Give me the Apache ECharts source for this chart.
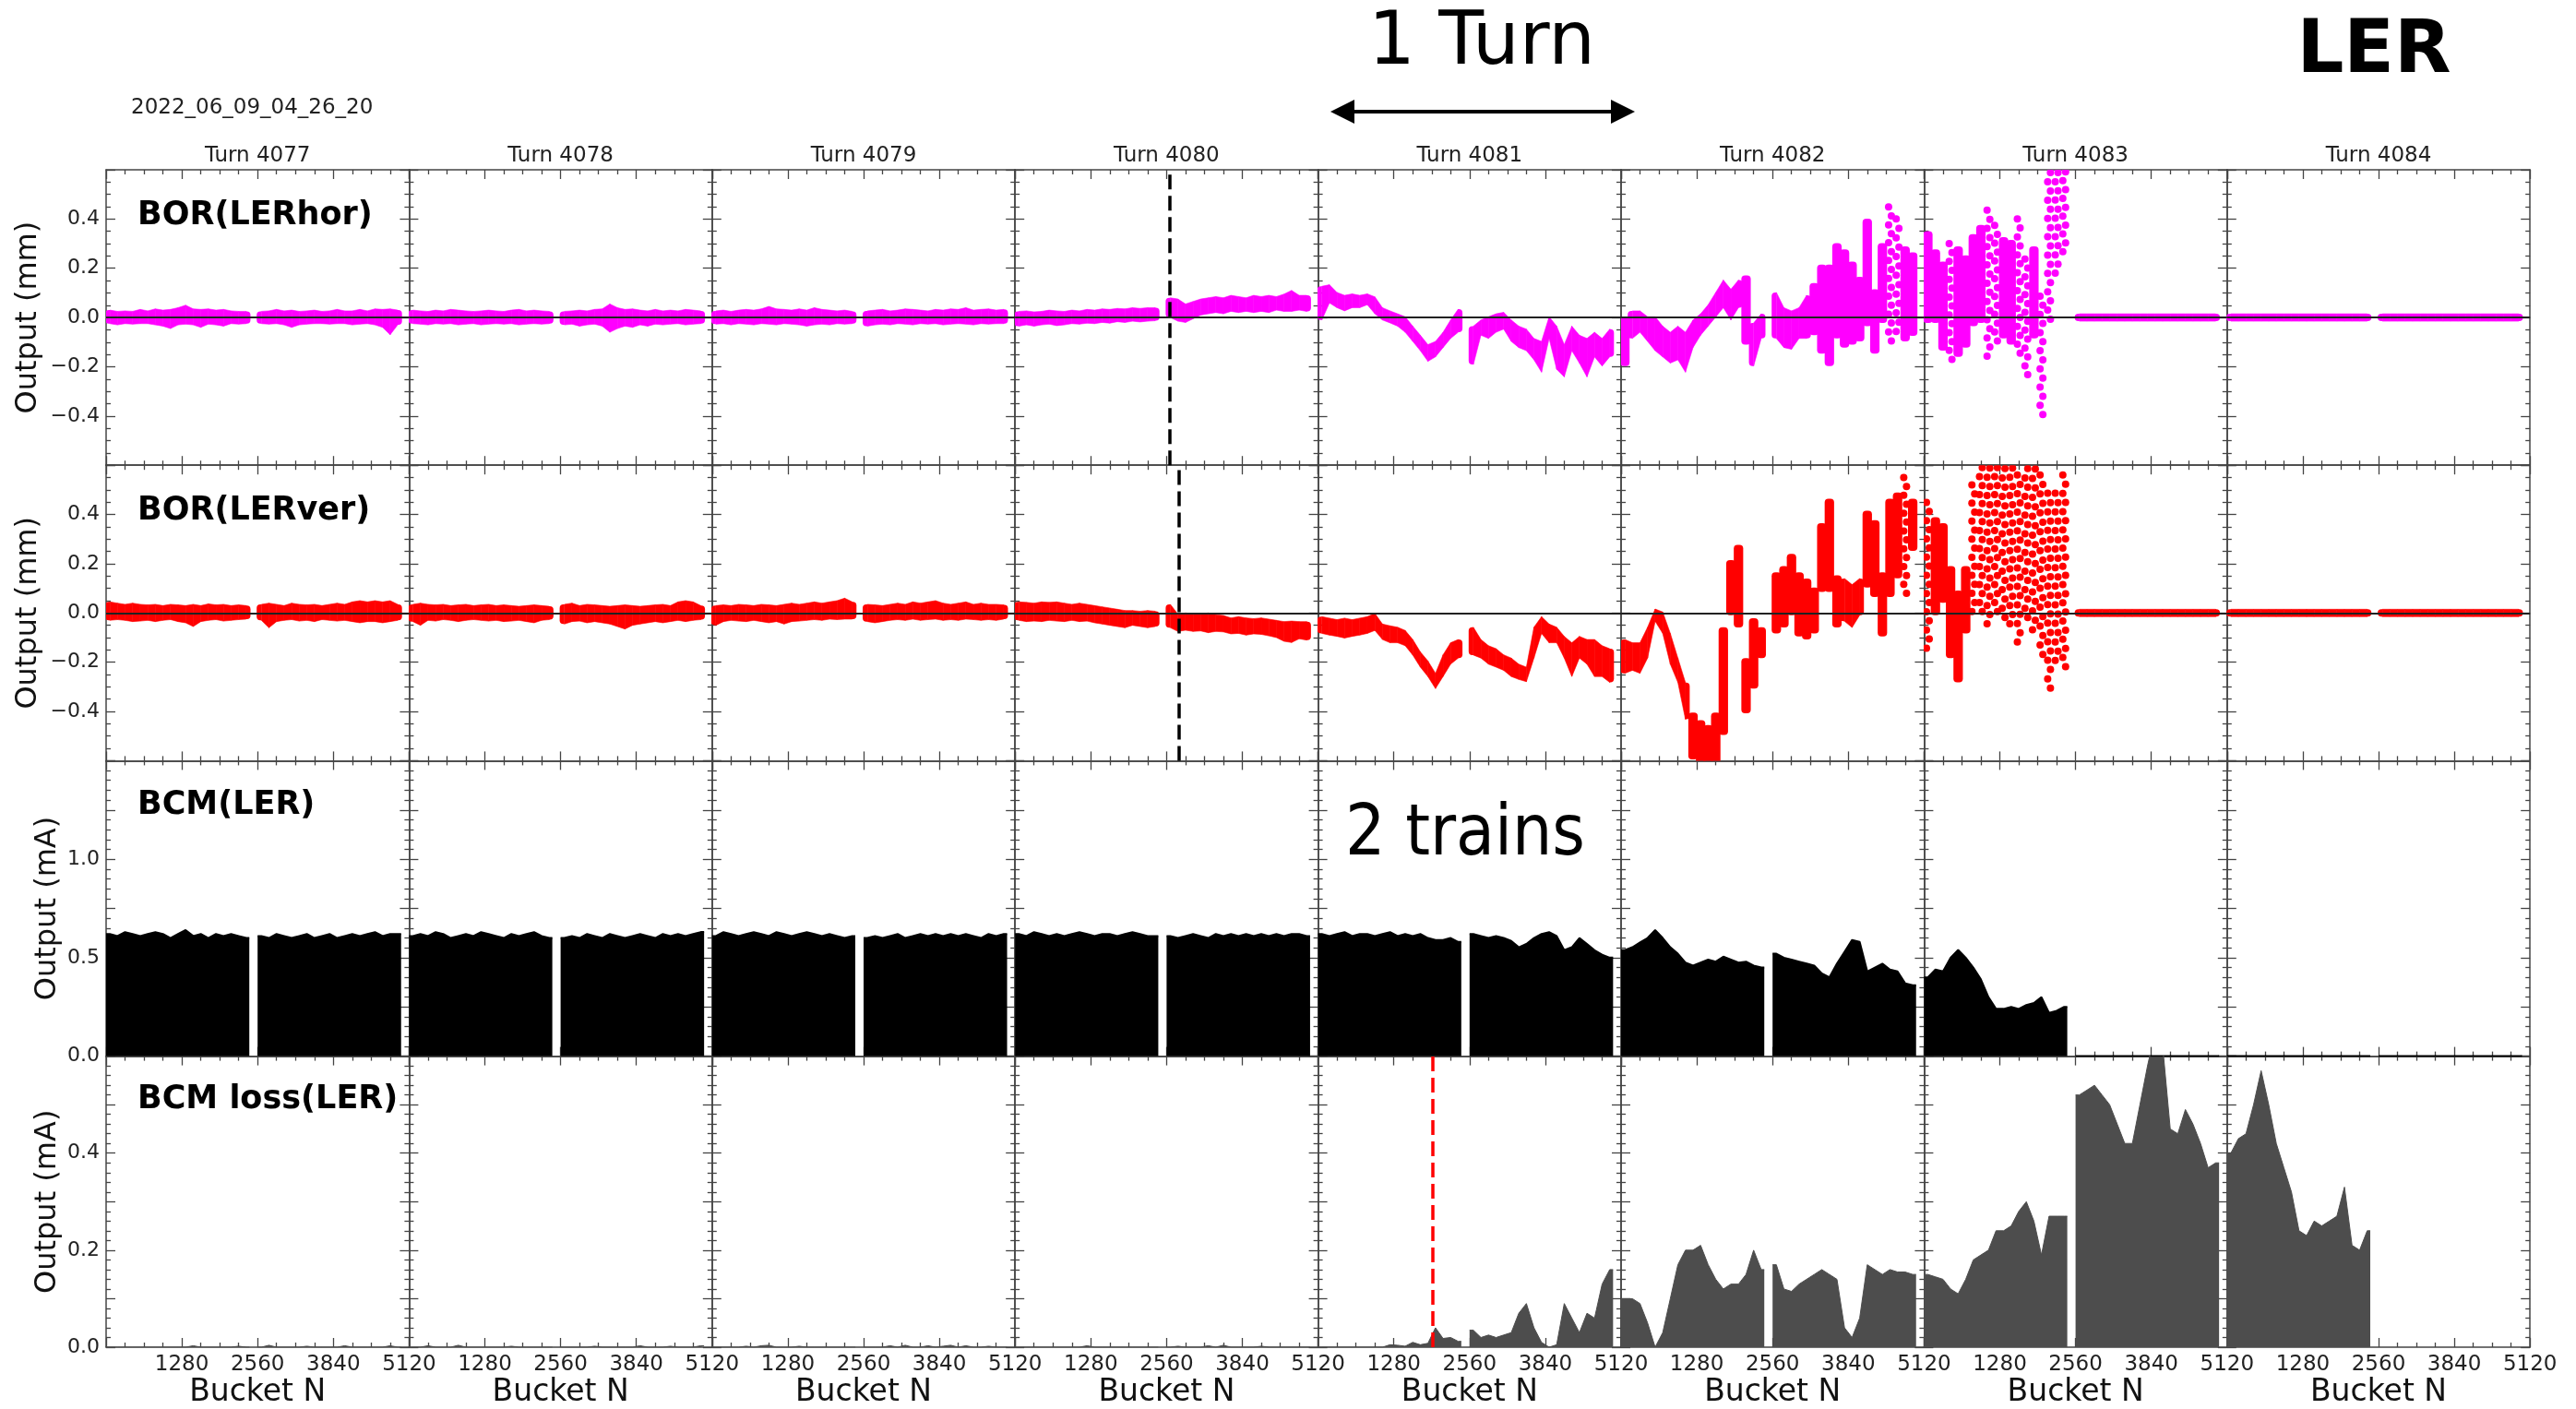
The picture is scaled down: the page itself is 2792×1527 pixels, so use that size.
<!DOCTYPE html>
<html><head><meta charset="utf-8">
<script src="https://cdn.jsdelivr.net/npm/echarts/dist/echarts.min.js"></script>
<style>html,body{margin:0;padding:0;background:#fff}#c{width:2792px;height:1527px}</style>
</head><body><div id="c"></div>
<script>
const _ = null;
// ---------- categories / labels ----------
const turns = [4077, 4078, 4079, 4080, 4081, 4082, 4083, 4084];
const xTickLabels = [1280, 2560, 3840, 5120];
const yLabelsBOR = [-0.4, -0.2, 0, 0.2, 0.4];
const yLabelsBCM = [0, 0.5, 1.0];
const yLabelsLoss = [0, 0.2, 0.4];
const BIN = 128;                       // buckets per sample bin (40 bins per turn)
const trainSpans = [[0, 2420], [2560, 4985]];
const dashHor = 2619, dashVer = 2775, dashLoss = 1929;  // bucket of dashed markers (turns 4080, 4080, 4081)

// ---------- BOR(LERhor) : low / high envelope per bin (mm) ----------
const horHi4077 = [.015,.01,.012,.01,.018,.012,.02,.015,.018,.025,.035,.02,.018,.02,.015,.018,.012,.01,.01,_,.01,.012,.018,.012,.015,.01,.012,.015,.01,.012,.018,.012,.012,.018,.012,.02,.018,.02,.015,_];
const horLo4077 = [-.01,-.015,-.01,-.012,-.01,-.01,-.015,-.02,-.03,-.015,-.012,-.015,-.025,-.012,-.015,-.02,-.01,-.012,-.01,_,-.01,-.012,-.01,-.015,-.025,-.015,-.012,-.01,-.01,-.012,-.01,-.01,-.015,-.012,-.01,-.015,-.025,-.055,-.015,_];
const horHi4078 = [.015,.012,.01,.015,.012,.018,.015,.012,.01,.012,.015,.012,.01,.015,.018,.012,.015,.012,.01,_,.01,.012,.015,.012,.018,.02,.04,.025,.018,.02,.015,.012,.018,.012,.015,.012,.018,.015,.012,_];
const horLo4078 = [-.01,-.012,-.015,-.01,-.012,-.01,-.015,-.012,-.01,-.015,-.012,-.01,-.012,-.01,-.015,-.012,-.01,-.012,-.01,_,-.015,-.012,-.02,-.015,-.012,-.02,-.045,-.03,-.02,-.025,-.015,-.02,-.012,-.015,-.012,-.01,-.015,-.012,-.01,_];
const horHi4079 = [.012,.015,.01,.015,.018,.015,.02,.03,.02,.018,.015,.02,.015,.025,.018,.015,.012,.015,.01,_,.012,.015,.018,.012,.015,.02,.018,.015,.012,.018,.015,.02,.018,.025,.015,.018,.02,.015,.018,_];
const horLo4079 = [-.012,-.01,-.015,-.01,-.012,-.015,-.01,-.012,-.015,-.01,-.012,-.015,-.02,-.015,-.012,-.015,-.01,-.012,-.01,_,-.02,-.015,-.012,-.015,-.01,-.012,-.015,-.01,-.012,-.01,-.015,-.012,-.01,-.012,-.015,-.01,-.012,-.01,-.01,_];
const horHi4080 = [.01,.012,.008,.01,.015,.012,.01,.015,.012,.018,.015,.02,.018,.022,.02,.025,.022,.025,.025,_,.065,.06,.04,.05,.06,.065,.07,.065,.075,.07,.065,.075,.07,.075,.07,.08,.095,.075,.075,_];
const horLo4080 = [-.02,-.015,-.02,-.015,-.012,-.018,-.015,-.01,-.012,-.008,-.01,-.005,-.008,-.002,-.005,0,-.003,0,.002,_,.015,0,-.005,.01,.025,.03,.035,.03,.04,.035,.04,.035,.04,.035,.045,.04,.04,.045,.04,_];
const horHi4081 = [.112,.118,.087,.075,.081,.075,.081,.069,.025,.012,0,-.012,-.05,-.087,-.125,-.112,-.075,-.025,.019,_,-.05,-.025,-.012,0,.006,-.025,-.05,-.062,-.1,-.112,-.012,-.05,-.125,-.05,-.087,-.1,-.075,-.1,-.062,_];
const horLo4081 = [.005,.074,.055,.042,.055,.055,.067,.03,.005,-.007,-.02,-.045,-.082,-.12,-.163,-.145,-.107,-.07,-.045,_,-.176,-.057,-.07,-.045,-.032,-.082,-.107,-.12,-.157,-.207,-.07,-.195,-.226,-.12,-.17,-.226,-.145,-.182,-.145,_];
const horHi4082 = [-.012,.012,.012,-.012,-.012,-.05,-.075,-.05,-.075,-.025,0,.037,.087,.137,.1,.137,.156,-.037,0,_,.087,.025,.012,.025,.075,.125,.2,.2,.287,.262,.212,.15,.386,.1,.287,.449,.4,.274,.25,_];
const horLo4082 = [-.182,-.07,-.045,-.082,-.12,-.145,-.17,-.157,-.207,-.107,-.057,-.02,.017,.055,.005,.055,-.095,-.182,-.07,_,-.07,-.107,-.114,-.07,-.07,-.057,-.132,-.182,-.07,-.107,-.095,-.082,-.02,-.132,-.007,-.095,-.057,-.082,-.06,_];
const horHi4083 = [.336,.262,.212,.3,.274,.237,.324,.361,.436,.374,.311,.3,.4,.237,.274,.087,.7,.7,.7,_,0,0,0,0,0,0,0,0,0,0,0,0,0,0,0,0,0,0,0,_];
const horLo4083 = [-.007,-.007,-.12,-.17,-.145,-.107,-.02,-.007,-.157,-.095,-.07,-.095,-.145,-.232,-.07,-.394,-.007,.18,.267,_,0,0,0,0,0,0,0,0,0,0,0,0,0,0,0,0,0,0,0,_];
const horHi4084 = [0,0,0,0,0,0,0,0,0,0,0,0,0,0,0,0,0,0,0,_,0,0,0,0,0,0,0,0,0,0,0,0,0,0,0,0,0,0,0,_];
const horLo4084 = [0,0,0,0,0,0,0,0,0,0,0,0,0,0,0,0,0,0,0,_,0,0,0,0,0,0,0,0,0,0,0,0,0,0,0,0,0,0,0,_];

// ---------- BOR(LERver) ----------
const verHi4077 = [.03,.025,.02,.025,.02,.018,.02,.015,.02,.018,.015,.02,.015,.022,.018,.02,.015,.018,.015,_,.02,.025,.02,.015,.025,.02,.018,.02,.015,.02,.025,.02,.03,.035,.03,.035,.03,.035,.02,_];
const verLo4077 = [-.015,-.012,-.015,-.02,-.018,-.015,-.02,-.015,-.012,-.02,-.025,-.04,-.02,-.015,-.012,-.018,-.015,-.012,-.01,_,-.015,-.045,-.02,-.015,-.012,-.018,-.015,-.02,-.012,-.015,-.018,-.015,-.02,-.025,-.02,-.02,-.025,-.02,-.015,_];
const verHi4078 = [.02,.025,.02,.018,.02,.015,.018,.02,.015,.018,.02,.015,.018,.015,.012,.015,.018,.015,.012,_,.02,.025,.015,.02,.018,.015,.012,.015,.018,.015,.012,.015,.018,.02,.015,.03,.035,.03,.015,_];
const verLo4078 = [-.02,-.035,-.015,-.018,-.012,-.015,-.02,-.015,-.012,-.015,-.018,-.015,-.02,-.018,-.015,-.02,-.025,-.015,-.012,_,-.03,-.02,-.018,-.025,-.02,-.025,-.03,-.04,-.05,-.035,-.03,-.025,-.02,-.025,-.02,-.015,-.02,-.015,-.012,_];
const verHi4079 = [.015,.018,.015,.02,.018,.015,.02,.018,.015,.02,.025,.02,.025,.03,.025,.03,.035,.045,.03,_,.02,.018,.015,.02,.025,.02,.03,.025,.03,.035,.025,.02,.025,.03,.02,.025,.02,.02,.018,_];
const verLo4079 = [-.035,-.02,-.015,-.018,-.02,-.015,-.02,-.025,-.02,-.03,-.02,-.018,-.015,-.012,-.015,-.01,-.012,-.01,-.01,_,-.02,-.025,-.02,-.015,-.012,-.015,-.01,-.015,-.012,-.01,-.015,-.012,-.015,-.01,-.012,-.015,-.012,-.015,-.01,_];
const verHi4080 = [.03,.028,.025,.03,.028,.03,.025,.02,.025,.02,.015,.01,.005,0,-.005,-.005,-.008,-.005,-.008,_,.02,-.02,-.015,-.018,-.02,-.015,-.022,-.025,-.035,-.03,-.035,-.038,-.035,-.04,-.045,-.05,-.048,-.05,-.05,_];
const verLo4080 = [-.015,-.02,-.018,-.02,-.015,-.018,-.02,-.015,-.02,-.018,-.025,-.03,-.035,-.04,-.045,-.035,-.04,-.045,-.04,_,-.045,-.06,-.055,-.06,-.058,-.065,-.06,-.062,-.07,-.068,-.075,-.07,-.072,-.078,-.085,-.1,-.105,-.09,-.095,_];
const verHi4081 = [-.03,-.036,-.042,-.036,-.042,-.036,-.03,-.017,-.06,-.067,-.073,-.086,-.123,-.173,-.21,-.26,-.185,-.136,-.123,_,-.073,-.123,-.148,-.16,-.185,-.198,-.223,-.235,-.073,-.03,-.06,-.073,-.11,-.136,-.11,-.123,-.123,-.148,-.16,_];
const verLo4081 = [-.068,-.075,-.08,-.087,-.08,-.075,-.068,-.056,-.093,-.106,-.106,-.118,-.156,-.205,-.243,-.292,-.243,-.193,-.168,_,-.156,-.168,-.193,-.205,-.218,-.243,-.255,-.264,-.168,-.068,-.106,-.106,-.168,-.243,-.168,-.193,-.243,-.243,-.267,_];
const verHi4082 = [-.123,-.136,-.136,-.073,.001,-.011,-.098,-.198,-.298,-.42,-.45,-.47,-.42,-.073,.2,.262,-.198,-.036,-.073,_,.15,.175,.225,.15,.125,.088,.35,.449,.138,.125,.1,.125,.4,.362,.15,.449,.474,.55,.449,_];
const verLo4082 = [-.23,-.218,-.23,-.168,-.019,-.068,-.193,-.267,-.417,-.58,-.7,-.7,-.7,-.48,.006,-.044,-.392,-.292,-.168,_,-.068,-.044,.006,-.08,-.093,-.068,.1,.1,-.044,-.019,-.044,.006,.118,.08,-.08,.08,.156,.08,.267,_];
const verHi4083 = [.449,.374,.35,.175,.076,.175,.52,.7,.7,.7,.7,.7,.56,.7,.7,.56,.486,.486,.56,_,0,0,0,0,0,0,0,0,0,0,0,0,0,0,0,0,0,0,0,_];
const verLo4083 = [-.143,.006,.056,-.168,-.267,-.068,.006,.006,-.044,.006,-.019,-.044,-.118,-.019,-.068,-.168,-.305,-.193,-.218,_,0,0,0,0,0,0,0,0,0,0,0,0,0,0,0,0,0,0,0,_];
const verHi4084 = [0,0,0,0,0,0,0,0,0,0,0,0,0,0,0,0,0,0,0,_,0,0,0,0,0,0,0,0,0,0,0,0,0,0,0,0,0,0,0,_];
const verLo4084 = [0,0,0,0,0,0,0,0,0,0,0,0,0,0,0,0,0,0,0,_,0,0,0,0,0,0,0,0,0,0,0,0,0,0,0,0,0,0,0,_];

// ---------- BCM(LER) per bin (mA) ----------
const bcm4077 = [.62,.61,.63,.62,.61,.62,.63,.62,.60,.62,.64,.61,.62,.60,.62,.61,.62,.61,.60,_,.61,.60,.62,.61,.60,.61,.62,.60,.61,.62,.60,.61,.62,.61,.62,.63,.61,.62,.62,_];
const bcm4078 = [.61,.62,.61,.63,.62,.60,.61,.62,.61,.63,.62,.61,.60,.62,.61,.62,.63,.61,.60,_,.60,.61,.60,.62,.61,.60,.62,.61,.60,.61,.62,.61,.60,.62,.61,.62,.61,.62,.63,_];
const bcm4079 = [.61,.63,.62,.61,.62,.63,.62,.61,.63,.62,.61,.62,.63,.62,.61,.62,.61,.60,.61,_,.60,.61,.60,.61,.62,.60,.61,.62,.61,.62,.61,.62,.61,.62,.61,.60,.62,.61,.62,_];
const bcm4080 = [.62,.61,.63,.62,.61,.62,.61,.62,.63,.62,.61,.62,.62,.61,.62,.63,.62,.61,.61,_,.61,.60,.61,.62,.61,.60,.62,.61,.62,.61,.62,.61,.62,.61,.62,.61,.62,.62,.61,_];
const bcm4081 = [.62,.61,.62,.63,.61,.62,.62,.61,.62,.63,.61,.62,.61,.62,.60,.59,.59,.60,.58,_,.62,.61,.60,.61,.60,.585,.553,.57,.60,.62,.63,.61,.538,.553,.60,.57,.538,.515,.50,_];
const bcm4082 = [.538,.553,.577,.60,.64,.60,.553,.52,.475,.46,.475,.49,.48,.505,.49,.475,.48,.46,.45,_,.52,.50,.49,.48,.47,.46,.42,.40,.47,.53,.59,.58,.43,.45,.47,.44,.43,.37,.36,_];
const bcm4083 = [.40,.44,.43,.50,.54,.50,.45,.39,.30,.24,.24,.25,.24,.26,.27,.30,.22,.23,.25,_,0,0,0,0,0,0,0,0,0,0,0,0,0,0,0,0,0,0,0,_];
const bcm4084 = [0,0,0,0,0,0,0,0,0,0,0,0,0,0,0,0,0,0,0,_,0,0,0,0,0,0,0,0,0,0,0,0,0,0,0,0,0,0,0,_];

// ---------- BCM loss(LER) per bin (mA) ----------
const loss4077 = [0,0,0,0,0,0,0,0,0,0,0,.003,0,0,0,0,0,.002,0,_,0,.004,0,0,0,0,.002,0,0,0,0,.003,0,0,0,0,0,.003,0,_];
const loss4078 = [0,0,.003,0,0,0,.004,0,0,0,0,0,0,.002,0,0,0,0,0,_,0,0,0,0,.002,0,0,0,0,0,.003,0,0,0,.002,0,0,0,.003,_];
const loss4079 = [0,0,0,0,.002,0,.003,.004,0,0,0,.002,0,0,0,0,0,0,0,_,0,0,0,.003,0,.004,0,0,.003,0,.002,.004,0,.003,0,0,.002,0,0,_];
const loss4080 = [0,0,0,0,0,0,0,0,0,.003,0,0,0,0,0,0,0,0,0,_,0,.002,0,0,0,.003,0,.004,0,0,0,0,.002,0,0,0,0,0,0,_];
const loss4081 = [0,0,0,0,0,0,0,0,0,.005,.004,.002,.01,.005,.008,.04,.018,.02,.012,_,.035,.02,.025,.02,.025,.03,.07,.09,.04,.01,0,.005,.09,.06,.03,.07,.06,.13,.16,_];
const loss4082 = [.1,.1,.09,.05,0,.03,.1,.17,.2,.2,.21,.17,.14,.12,.13,.13,.15,.2,.16,_,.17,.12,.115,.13,.14,.15,.16,.15,.14,.04,.02,.06,.17,.16,.15,.16,.155,.155,.15,_];
const loss4083 = [.15,.145,.14,.12,.11,.14,.18,.19,.2,.24,.24,.25,.28,.3,.26,.19,.27,.27,.27,_,.52,.53,.54,.52,.5,.46,.42,.42,.5,.58,.65,.62,.45,.44,.49,.46,.42,.37,.38,_];
const loss4084 = [.4,.43,.44,.5,.57,.5,.42,.37,.32,.24,.23,.26,.25,.26,.27,.33,.21,.2,.24,_,_,_,_,_,_,_,_,_,_,_,_,_,_,_,_,_,_,_,_,_];

const horLo = [horLo4077,horLo4078,horLo4079,horLo4080,horLo4081,horLo4082,horLo4083,horLo4084];
const horHi = [horHi4077,horHi4078,horHi4079,horHi4080,horHi4081,horHi4082,horHi4083,horHi4084];
const verLo = [verLo4077,verLo4078,verLo4079,verLo4080,verLo4081,verLo4082,verLo4083,verLo4084];
const verHi = [verHi4077,verHi4078,verHi4079,verHi4080,verHi4081,verHi4082,verHi4083,verHi4084];
const bcm = [bcm4077,bcm4078,bcm4079,bcm4080,bcm4081,bcm4082,bcm4083,bcm4084];
const loss = [loss4077,loss4078,loss4079,loss4080,loss4081,loss4082,loss4083,loss4084];

// ---------- layout / style ----------
const FONT = '"DejaVu Sans", Verdana, sans-serif';
const L0 = 115, COLW = 328.4, T0 = 184, ROWH = 320.2;
const AX = '#444';
const R_DOT = 4, DOT_STEP = 10, DOTTED_ABOVE = 120, SMOOTH_MAX = 50;
const NONE = -999;
const rowDefs = [
  {min:-0.6, max:0.6, interval:0.2, minor:4, labels:yLabelsBOR, name:'Output (mm)', gap:68, title:'BOR(LERhor)'},
  {min:-0.6, max:0.6, interval:0.2, minor:4, labels:yLabelsBOR, name:'Output (mm)', gap:68, title:'BOR(LERver)'},
  {min:0, max:1.5, interval:0.25, minor:5, labels:yLabelsBCM, name:'Output (mA)', gap:47, title:'BCM(LER)'},
  {min:0, max:0.6, interval:0.1, minor:5, labels:yLabelsLoss, name:'Output (mA)', gap:47, title:'BCM loss(LER)'}
];
const fmtNum = v => v.toFixed(1).replace('-', '\u2212');
const inList = (list, v) => list.some(t => Math.abs(t - v) < 1e-6);

// item: [x, lo, hi, nextX, nextLo, nextHi, prevX, prevLo, prevHi] (neighbours only inside a train)
function segData(lo, hi) {
  const out = [];
  const ok = i => i >= 0 && i < lo.length && lo[i] !== null && hi[i] !== null;
  lo.forEach((v, i) => {
    if (!ok(i)) return;
    const n = ok(i + 1) ? [(i + 1.5) * BIN, lo[i + 1], hi[i + 1]] : [NONE, 0, 0];
    const p = ok(i - 1) ? [(i - 0.5) * BIN, lo[i - 1], hi[i - 1]] : [NONE, 0, 0];
    out.push([(i + 0.5) * BIN, v, hi[i], ...n, ...p]);
  });
  return out;
}
function areaData(vals) {
  const out = [];
  trainSpans.forEach(([s, e]) => {
    const pts = [];
    vals.forEach((v, i) => { const x = (i + 0.5) * BIN; if (v !== null && x > s && x < e) pts.push([x, v]); });
    if (!pts.length) return;
    out.push([s, pts[0][1]], ...pts, [e, pts[pts.length - 1][1]], [e + 20, null]);
  });
  return out;
}
// dense bins -> continuous band; tall bins -> column; very tall bins -> column of separate dots
function segRender(color) {
  return function (params, api) {
    const span = (x, lo, hi) => {
      const a = api.coord([x, lo]), b = api.coord([x, hi]);
      return {x: a[0], top: Math.min(a[1], b[1]) - R_DOT, bot: Math.max(a[1], b[1]) + R_DOT};
    };
    const me = span(api.value(0), api.value(1), api.value(2));
    const h = me.bot - me.top;
    const w = api.size([BIN, 0])[0];
    const st = {fill: color, stroke: color, lineWidth: 0.6};
    if (h > DOTTED_ABOVE) {
      const n = Math.max(1, Math.round((h - 2 * R_DOT) / DOT_STEP));
      const children = [];
      for (let k = 0; k <= n; k++) {
        children.push({type: 'circle', shape: {cx: me.x + (k % 2 ? 1.5 : -1.5), cy: me.top + R_DOT + k * (h - 2 * R_DOT) / n, r: R_DOT},
          style: {fill: color}});
      }
      return {type: 'group', children: children};
    }
    const children = [];
    let connR = false, connL = false;
    if (h <= SMOOTH_MAX && api.value(3) > NONE + 1) {
      const nx = span(api.value(3), api.value(4), api.value(5));
      if (nx.bot - nx.top <= SMOOTH_MAX) {
        connR = true;
        children.push({type: 'polygon', shape: {points: [[me.x, me.top], [nx.x, nx.top], [nx.x, nx.bot], [me.x, me.bot]]}, style: st});
      }
    }
    if (h <= SMOOTH_MAX && api.value(6) > NONE + 1) {
      const pv = span(api.value(6), api.value(7), api.value(8));
      if (pv.bot - pv.top <= SMOOTH_MAX) connL = true;
    }
    if (!(connL && connR)) {
      let rx = me.x - w / 2 - 1, rw = w + 2, r = R_DOT;
      if (connR) { rw = w / 2 + 1; r = [R_DOT, 0, 0, R_DOT]; }
      else if (connL) { rx = me.x - 0.5; rw = w / 2 + 1; r = [0, R_DOT, R_DOT, 0]; }
      children.push({type: 'rect', shape: {x: rx, y: me.top, width: rw, height: h, r: r}, style: {fill: color}});
    }
    return {type: 'group', children: children};
  };
}

const grids = [], xAxes = [], yAxes = [], series = [];
const tickStyle = {color: AX, width: 1.3};
rowDefs.forEach((rd, r) => {
  turns.forEach((t, c) => {
    const gi = grids.length;
    grids.push({left: L0 + c * COLW, top: T0 + r * ROWH, width: COLW, height: ROWH});
    const xBase = {gridIndex: gi, type: 'value', min: 0, max: 5120, interval: 1280,
      axisLine: {show: true, onZero: false, lineStyle: {color: AX, width: 1.5}},
      axisTick: {show: true, inside: true, length: 10, lineStyle: tickStyle},
      minorTick: {show: true, splitNumber: 4, length: 5, lineStyle: tickStyle},
      splitLine: {show: false}};
    xAxes.push(Object.assign({}, xBase, {position: 'bottom',
      axisLabel: {show: r === 3, margin: 8, fontSize: 23, fontFamily: FONT, color: '#222',
        formatter: v => inList(xTickLabels, v) ? String(v) : ''},
      name: r === 3 ? 'Bucket N' : '', nameLocation: 'middle', nameGap: 33,
      nameTextStyle: {fontSize: 33, fontFamily: FONT, color: '#111'}}));
    xAxes.push(Object.assign({}, xBase, {position: 'top', axisLabel: {show: false}}));
    const yBase = {gridIndex: gi, type: 'value', min: rd.min, max: rd.max, interval: rd.interval,
      axisLine: {show: true, onZero: false, lineStyle: {color: AX, width: 1.5}},
      axisTick: {show: true, inside: true, length: 10, lineStyle: tickStyle},
      minorTick: {show: true, splitNumber: rd.minor, length: 5, lineStyle: tickStyle},
      splitLine: {show: false}};
    yAxes.push(Object.assign({}, yBase, {position: 'left',
      axisLabel: {show: c === 0, margin: 7, fontSize: 22, fontFamily: FONT, color: '#222',
        formatter: v => inList(rd.labels, v) ? fmtNum(v) : ''},
      name: c === 0 ? rd.name : '', nameLocation: 'middle', nameGap: rd.gap,
      nameTextStyle: {fontSize: 32, fontFamily: FONT, color: '#111'}}));
    yAxes.push(Object.assign({}, yBase, {position: 'right', axisLabel: {show: false}}));

    const xi = 2 * gi, yi = 2 * gi;
    if (r < 2) {
      const lo = r === 0 ? horLo[c] : verLo[c];
      const hi = r === 0 ? horHi[c] : verHi[c];
      const mlData = [{yAxis: 0}];
      if (r === 0 && c === 3) mlData.push({xAxis: dashHor, lineStyle: {color: '#000', width: 3.5, type: [16, 7]}});
      if (r === 1 && c === 3) mlData.push({xAxis: dashVer, lineStyle: {color: '#000', width: 3.5, type: [16, 7]}});
      series.push({type: 'custom', xAxisIndex: xi, yAxisIndex: yi, clip: true, silent: true,
        renderItem: segRender(r === 0 ? '#ff00ff' : '#ff0000'),
        encode: {x: 0, y: [1, 2]}, data: segData(lo, hi), z: 2,
        markLine: {silent: true, symbol: 'none', animation: false, label: {show: false},
          lineStyle: {color: '#222', width: 2, type: 'solid'}, data: mlData}});
    } else {
      const vals = r === 2 ? bcm[c] : loss[c];
      const col = r === 2 ? '#000000' : '#4d4d4d';
      const s = {type: 'line', xAxisIndex: xi, yAxisIndex: yi, data: areaData(vals), silent: true,
        showSymbol: false, symbol: 'none', connectNulls: false, z: 2,
        lineStyle: {color: col, width: r === 2 ? 2 : 1}, areaStyle: {color: col, opacity: 1, origin: 'start'}};
      if (r === 3 && c === 4) s.markLine = {silent: true, symbol: 'none', animation: false, label: {show: false},
        lineStyle: {color: '#ff0000', width: 3.5, type: [16, 7]}, data: [{xAxis: dashLoss}]};
      series.push(s);
    }
  });
});

const graphic = [
  {type: 'text', x: 142, y: 117, style: {text: '2022_06_09_04_26_20', font: '23px ' + FONT, fill: '#222', verticalAlign: 'middle'}},
  {type: 'text', x: 1606, y: 48, style: {text: '1 Turn', font: '80px ' + FONT, fill: '#000', align: 'center', verticalAlign: 'middle'}},
  {type: 'line', shape: {x1: 1462, y1: 121, x2: 1752, y2: 121}, style: {stroke: '#000', lineWidth: 4}},
  {type: 'polygon', shape: {points: [[1442, 121], [1468, 108], [1468, 134]]}, style: {fill: '#000'}},
  {type: 'polygon', shape: {points: [[1772, 121], [1746, 108], [1746, 134]]}, style: {fill: '#000'}},
  {type: 'text', x: 2573, y: 57, style: {text: 'LER', font: 'bold 80px ' + FONT, fill: '#000', align: 'center', verticalAlign: 'middle'}},
  {type: 'text', x: 1588, y: 906, z: 10, style: {text: '2 trains', font: '76px "DejaVu Sans Condensed", ' + FONT, fill: '#000', align: 'center', verticalAlign: 'middle'}}
];
turns.forEach((t, c) => graphic.push({type: 'text', x: L0 + (c + 0.5) * COLW, y: 169,
  style: {text: 'Turn ' + t, font: '23px ' + FONT, fill: '#222', align: 'center', verticalAlign: 'middle'}}));
const titleY = [234, 554, 873, 1192];
rowDefs.forEach((rd, r) => graphic.push({type: 'text', x: 149, y: titleY[r], z: 10,
  style: {text: rd.title, font: 'bold 35px ' + FONT, fill: '#000', verticalAlign: 'middle'}}));

const chart = echarts.init(document.getElementById('c'), null, {renderer: 'canvas'});
chart.setOption({animation: false, backgroundColor: '#ffffff', grid: grids, xAxis: xAxes, yAxis: yAxes, series, graphic});
</script>
</body></html>
